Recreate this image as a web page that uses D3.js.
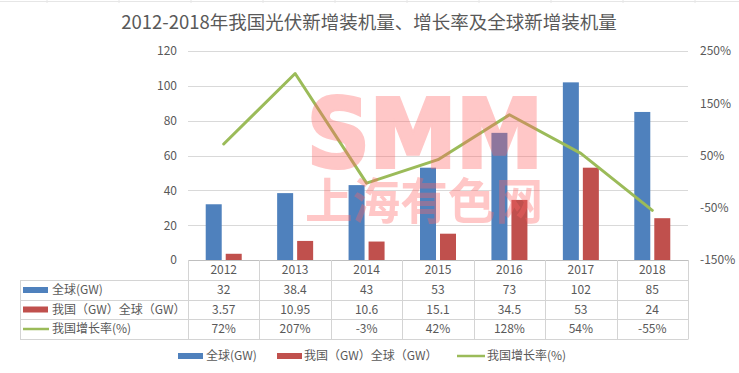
<!DOCTYPE html>
<html>
<head>
<meta charset="utf-8">
<script src="https://cdn.jsdelivr.net/npm/d3@7/dist/d3.min.js"></script>
<style>
  html, body { margin: 0; padding: 0; background: #fff; }
  svg { display: block; }
  text { font-family: "Noto Sans CJK SC", "Noto Sans", sans-serif; }
</style>
</head>
<body>
<svg id="chart" width="739" height="373"></svg>
<script>
const years = ["2012", "2013", "2014", "2015", "2016", "2017", "2018"];
const globalGW = [32, 38.4, 43, 53, 73, 102, 85];
const chinaGW = [3.57, 10.95, 10.6, 15.1, 34.5, 53, 24];
const chinaGrowth = [72, 207, -3, 42, 128, 54, -55];
const globalLabels = ["32", "38.4", "43", "53", "73", "102", "85"];
const chinaLabels = ["3.57", "10.95", "10.6", "15.1", "34.5", "53", "24"];
const growthLabels = ["72%", "207%", "-3%", "42%", "128%", "54%", "-55%"];
const leftTicks = [0, 20, 40, 60, 80, 100, 120];
const rightTicks = [-150, -50, 50, 150, 250];
const seriesNames = ["全球(GW)", "我国（GW）全球（GW）", "我国增长率(%)"];
const titleText = "2012-2018年我国光伏新增装机量、增长率及全球新增装机量";

const blue = "#4F81BD", red = "#C0504D", green = "#9BBB59";
const textColor = "#595959", gridColor = "#D9D9D9", tableLine = "#D4D4D4";

const svg = d3.select("#chart");
const L = 188, R = 688, T = 51, B = 260;

const x = d3.scaleBand().domain(years).range([L, R]).padding(0);
const xi = d3.scaleBand().domain(["g", "c"]).range([-18, 18]).paddingInner(0.2);
const yL = d3.scaleLinear().domain([0, 120]).range([B, T]);
const yR = d3.scaleLinear().domain([-150, 250]).range([B, T]);

// faint spreadsheet remnants at top
const topG = svg.append("g");
topG.append("line").attr("x1", 0).attr("x2", 739).attr("y1", 1.5).attr("y2", 1.5)
  .attr("stroke", "#E6E6E6").attr("stroke-width", 1);
d3.range(10).forEach(i => {
  const xx = 47 + i * 72;
  topG.append("line").attr("x1", xx).attr("x2", xx).attr("y1", 0).attr("y2", 3)
    .attr("stroke", "#E6E6E6");
});

// title
svg.append("text").attr("x", 369).attr("y", 29).attr("text-anchor", "middle")
  .attr("font-size", 18.5).attr("fill", textColor).text(titleText);

// gridlines
svg.append("g").selectAll("line").data(leftTicks.filter(d => d > 0)).join("line")
  .attr("x1", L).attr("x2", R)
  .attr("y1", d => Math.round(yL(d)) + 0.5).attr("y2", d => Math.round(yL(d)) + 0.5)
  .attr("stroke", gridColor).attr("stroke-width", 1);

// left axis
const axL = svg.append("g").attr("transform", `translate(${L},0)`)
  .call(d3.axisLeft(yL).tickValues(leftTicks).tickSize(0).tickPadding(11));
axL.select(".domain").remove();
axL.selectAll("text").attr("fill", textColor).attr("font-size", 12)
  .style("font-family", '"Noto Sans CJK SC", sans-serif');

// right axis
const axR = svg.append("g").attr("transform", `translate(${R},0)`)
  .call(d3.axisRight(yR).tickValues(rightTicks).tickSize(0).tickPadding(12).tickFormat(d => d + "%"));
axR.select(".domain").remove();
axR.selectAll("text").attr("fill", textColor).attr("font-size", 12)
  .style("font-family", '"Noto Sans CJK SC", sans-serif');

// bars
const cx = d => x(d) + x.bandwidth() / 2;
svg.append("g").selectAll("rect").data(years).join("rect")
  .attr("x", (d) => cx(d) + xi("g")).attr("width", xi.bandwidth())
  .attr("y", (d, i) => yL(globalGW[i])).attr("height", (d, i) => B - yL(globalGW[i]))
  .attr("fill", blue);
svg.append("g").selectAll("rect").data(years).join("rect")
  .attr("x", (d) => cx(d) + xi("c")).attr("width", xi.bandwidth())
  .attr("y", (d, i) => yL(chinaGW[i])).attr("height", (d, i) => B - yL(chinaGW[i]))
  .attr("fill", red);

// line
const line = d3.line().x(d => cx(d[0])).y(d => yR(d[1]));
svg.append("path").datum(years.map((y, i) => [y, chinaGrowth[i]]))
  .attr("d", line).attr("fill", "none").attr("stroke", green)
  .attr("stroke-width", 3).attr("stroke-linejoin", "round").attr("stroke-linecap", "round");

// watermark
const wm = svg.append("g").attr("opacity", 0.36).attr("pointer-events", "none");
wm.append("text").attr("x", 425).attr("y", 167).attr("text-anchor", "middle")
  .attr("font-size", 94).attr("font-weight", "bold")
  .style("font-family", '"DejaVu Sans", sans-serif')
  .attr("textLength", 236).attr("lengthAdjust", "spacingAndGlyphs")
  .attr("fill", "#FF6565").attr("stroke", "#FF6565").attr("stroke-width", 4)
  .attr("stroke-linejoin", "miter").attr("paint-order", "stroke").text("SMM");
wm.append("text").attr("x", 424).attr("y", 219).attr("text-anchor", "middle")
  .attr("font-size", 49).attr("font-weight", "bold")
  .attr("textLength", 238).attr("lengthAdjust", "spacingAndGlyphs")
  .attr("fill", "#FF6565").text("上海有色网");

// x axis line
svg.append("line").attr("x1", L).attr("x2", R).attr("y1", B + 0.5).attr("y2", B + 0.5)
  .attr("stroke", "#BFBFBF");

// data table
const rowTops = [280, 299.5, 319, 339];
const tbl = svg.append("g");
rowTops.forEach(yy => {
  tbl.append("line").attr("x1", 20).attr("x2", R)
    .attr("y1", Math.round(yy) + 0.5).attr("y2", Math.round(yy) + 0.5)
    .attr("stroke", tableLine);
});
const bounds = years.map(d => x(d)).concat([R]);
tbl.selectAll("line.v").data(bounds).join("line").attr("class", "v")
  .attr("x1", d => Math.round(d) + 0.5).attr("x2", d => Math.round(d) + 0.5)
  .attr("y1", B).attr("y2", 339.5).attr("stroke", tableLine);
tbl.append("line").attr("x1", 20.5).attr("x2", 20.5).attr("y1", 280).attr("y2", 339.5)
  .attr("stroke", tableLine);

tbl.selectAll("text.yr").data(years).join("text").attr("class", "yr")
  .attr("x", d => cx(d)).attr("y", 274).attr("text-anchor", "middle")
  .attr("font-size", 12).attr("fill", textColor).text(d => d);

const rows = [globalLabels, chinaLabels, growthLabels];
const rowCenters = [290, 309.5, 329];
rows.forEach((vals, r) => {
  tbl.selectAll(`text.r${r}`).data(years).join("text").attr("class", `r${r}`)
    .attr("x", d => cx(d)).attr("y", rowCenters[r] + 4.3).attr("text-anchor", "middle")
    .attr("font-size", 12).attr("fill", textColor).text((d, i) => vals[i]);
  tbl.append("text").attr("x", 52).attr("y", rowCenters[r] + 4.3)
    .attr("font-size", 12).attr("fill", textColor).text(seriesNames[r]);
});
tbl.append("rect").attr("x", 23).attr("y", rowCenters[0] - 3).attr("width", 25).attr("height", 6).attr("fill", blue);
tbl.append("rect").attr("x", 23).attr("y", rowCenters[1] - 3).attr("width", 25).attr("height", 6).attr("fill", red);
tbl.append("line").attr("x1", 23).attr("x2", 49).attr("y1", rowCenters[2]).attr("y2", rowCenters[2])
  .attr("stroke", green).attr("stroke-width", 2.5);

// bottom legend
const lg = svg.append("g");
const ly = 356;
lg.append("rect").attr("x", 178).attr("y", ly - 3).attr("width", 25).attr("height", 6).attr("fill", blue);
lg.append("text").attr("x", 206).attr("y", ly + 4.3).attr("font-size", 12).attr("fill", textColor).text(seriesNames[0]);
lg.append("rect").attr("x", 277).attr("y", ly - 3).attr("width", 25).attr("height", 6).attr("fill", red);
lg.append("text").attr("x", 304).attr("y", ly + 4.3).attr("font-size", 12).attr("fill", textColor).text(seriesNames[1]);
lg.append("line").attr("x1", 457).attr("x2", 485).attr("y1", ly).attr("y2", ly).attr("stroke", green).attr("stroke-width", 2.5);
lg.append("text").attr("x", 487).attr("y", ly + 4.3).attr("font-size", 12).attr("fill", textColor).text(seriesNames[2]);
</script>
</body>
</html>
